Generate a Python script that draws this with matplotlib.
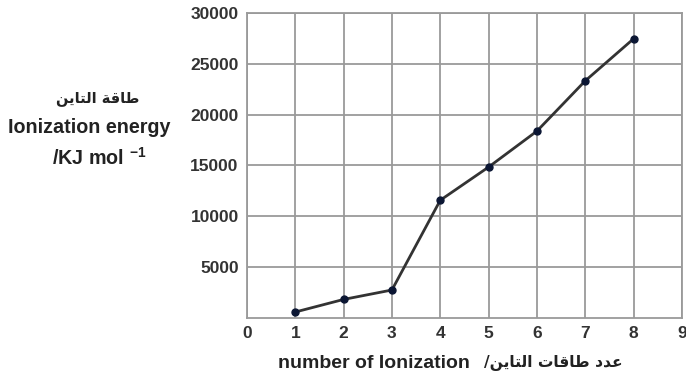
import matplotlib
matplotlib.use("Agg")
import matplotlib.pyplot as plt

# Data (aluminium successive ionization energies)
ionization_number = [1, 2, 3, 4, 5, 6, 7, 8]
energy_kj_mol = [578, 1817, 2745, 11577, 14842, 18379, 23326, 27465]
x_ticks = [0, 1, 2, 3, 4, 5, 6, 7, 8, 9]
y_ticks = [5000, 10000, 15000, 20000, 25000, 30000]

plt.rcParams['font.family'] = ['Liberation Sans', 'DejaVu Sans']
plt.rcParams['mathtext.fontset'] = 'custom'
plt.rcParams['mathtext.bf'] = 'Liberation Sans:bold'
plt.rcParams['mathtext.rm'] = 'Liberation Sans'

# Arabic strings written in visual order with presentation forms
ar_energy = "\uFEE6\uFEF3\uFE8E\uFE98\uFEDF\uFE8D \uFE94\uFED7\uFE8E\uFEC3"        # طاقة التاين
ar_number = "\uFEE6\uFEF3\uFE8E\uFE98\uFEDF\uFE8D \uFE95\uFE8E\uFED7\uFE8E\uFEC3 \uFEA9\uFEAA\uFECB"  # عدد طاقات التاين

fig = plt.figure(figsize=(6.86, 3.83), dpi=100)
ax = fig.add_axes([0.360, 0.170, 0.634, 0.796])

grid_c = '#9a9a9a'
ax.plot(ionization_number, energy_kj_mol, color='#333333', lw=2.0, zorder=3,
        marker='o', markersize=5, markerfacecolor='#0b1633', markeredgecolor='#0b1633')

ax.set_xlim(0, 9)
ax.set_ylim(0, 30000)
ax.set_xticks(x_ticks)
ax.set_yticks(y_ticks)
ax.grid(True, color=grid_c, lw=1.3)
ax.set_axisbelow(True)
for s in ax.spines.values():
    s.set_color(grid_c)
    s.set_linewidth(1.3)
ax.tick_params(length=0, pad=6, labelsize=12.5, labelcolor='#333333')
for lab in ax.get_xticklabels() + ax.get_yticklabels():
    lab.set_fontweight('bold')

tc = '#222222'
fig.text(0.143, 0.744, ar_energy, ha='center', va='center', fontsize=10.5,
         fontweight='bold', color=tc, family=['DejaVu Sans'])
fig.text(0.130, 0.666, "Ionization energy", ha='center', va='center',
         fontsize=14.2, fontweight='bold', color=tc)
fig.text(0.145, 0.587, r"/KJ mol $^{\mathbf{-1}}$", ha='center', va='center',
         fontsize=14.2, fontweight='bold', color=tc)

fig.text(0.545, 0.052, "number of Ionization", ha='center', va='center',
         fontsize=14, fontweight='bold', color=tc)
fig.text(0.806, 0.052, "/" + ar_number, ha='center', va='center',
         fontsize=11.2, fontweight='bold', color=tc, family=['DejaVu Sans'])

fig.savefig("out.png", dpi=100, facecolor='white')
